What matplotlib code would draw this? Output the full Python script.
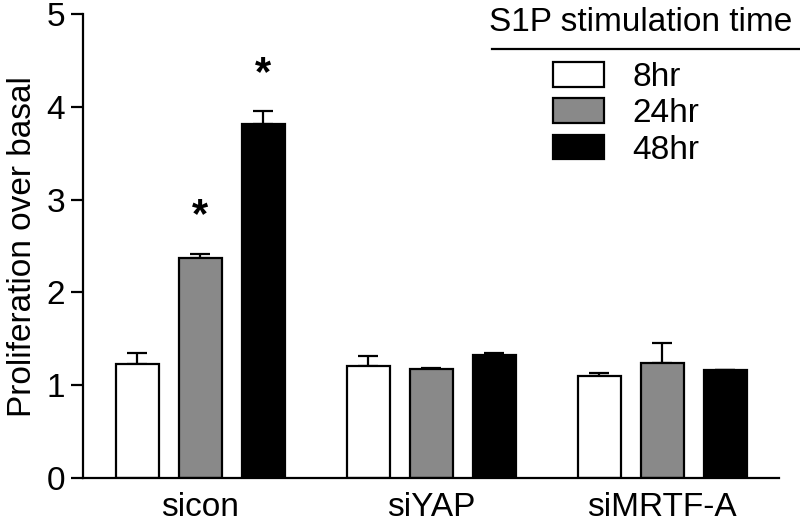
import matplotlib
matplotlib.use("Agg")
import matplotlib.pyplot as plt
import numpy as np
from matplotlib.patches import Patch
from matplotlib.lines import Line2D

plt.rcParams['font.family'] = ['Liberation Sans', 'DejaVu Sans']

groups = ['sicon', 'siYAP', 'siMRTF-A']
times = ['8hr', '24hr', '48hr']
means = {
    '8hr': [1.23, 1.21, 1.10],
    '24hr': [2.37, 1.17, 1.24],
    '48hr': [3.82, 1.33, 1.16],
}
errs = {
    '8hr': [0.12, 0.10, 0.03],
    '24hr': [0.05, 0.02, 0.21],
    '48hr': [0.14, 0.02, 0.005],
}
colors = ['white', '#898989', 'black']
# significance stars: (group index, series index)
stars = [(0, 1), (0, 2)]

x = np.arange(len(groups))
width = 0.186
offset = 0.273

fig = plt.figure(figsize=(8, 5.27), dpi=100)
ax = fig.add_axes([0.104, 0.093, 0.870, 0.880])

for i, t in enumerate(times):
    pos = x + (i - 1) * offset
    ax.bar(pos, means[t], width, color=colors[i], edgecolor='black', linewidth=1.6, zorder=2)
    ax.errorbar(pos, means[t], yerr=[np.zeros(len(groups)), errs[t]], fmt='none',
                ecolor='black', elinewidth=1.6, capsize=7, capthick=1.6, zorder=1)

for g, s in stars:
    t = times[s]
    ax.text(x[g] + (s - 1) * offset, means[t][g] + errs[t][g] + 0.40, '*',
            ha='center', va='center', fontsize=30, fontweight='bold')

ax.set_xlim(-0.506, 2.506)
ax.set_ylim(0, 5)
ax.set_yticks([0, 1, 2, 3, 4, 5])
ax.set_xticks(x)
ax.set_xticklabels(groups)
ax.tick_params(axis='y', labelsize=24, length=9, width=1.6, direction='out', pad=4)
ax.tick_params(axis='x', labelsize=24, length=0, pad=10)
ax.set_ylabel('Proliferation over basal', fontsize=24, labelpad=6)
for side in ['top', 'right']:
    ax.spines[side].set_visible(False)
for side in ['left', 'bottom']:
    ax.spines[side].set_linewidth(1.6)

handles = [Patch(facecolor=c, edgecolor='black', linewidth=1.6) for c in colors]
ax.legend(handles, times, loc='upper left', bbox_to_anchor=(0.675, 0.897),
          frameon=False, fontsize=24, handlelength=1.53, handleheight=0.75,
          labelspacing=0.16, handletextpad=0.84, borderaxespad=0, borderpad=0)

fig.text(0.99, 0.958, 'S1P stimulation time', ha='right', va='center', fontsize=24)
fig.add_artist(Line2D([0.615, 1.0], [0.907, 0.907], color='black', linewidth=1.6,
                      transform=fig.transFigure))

fig.savefig('out.png', dpi=100)
